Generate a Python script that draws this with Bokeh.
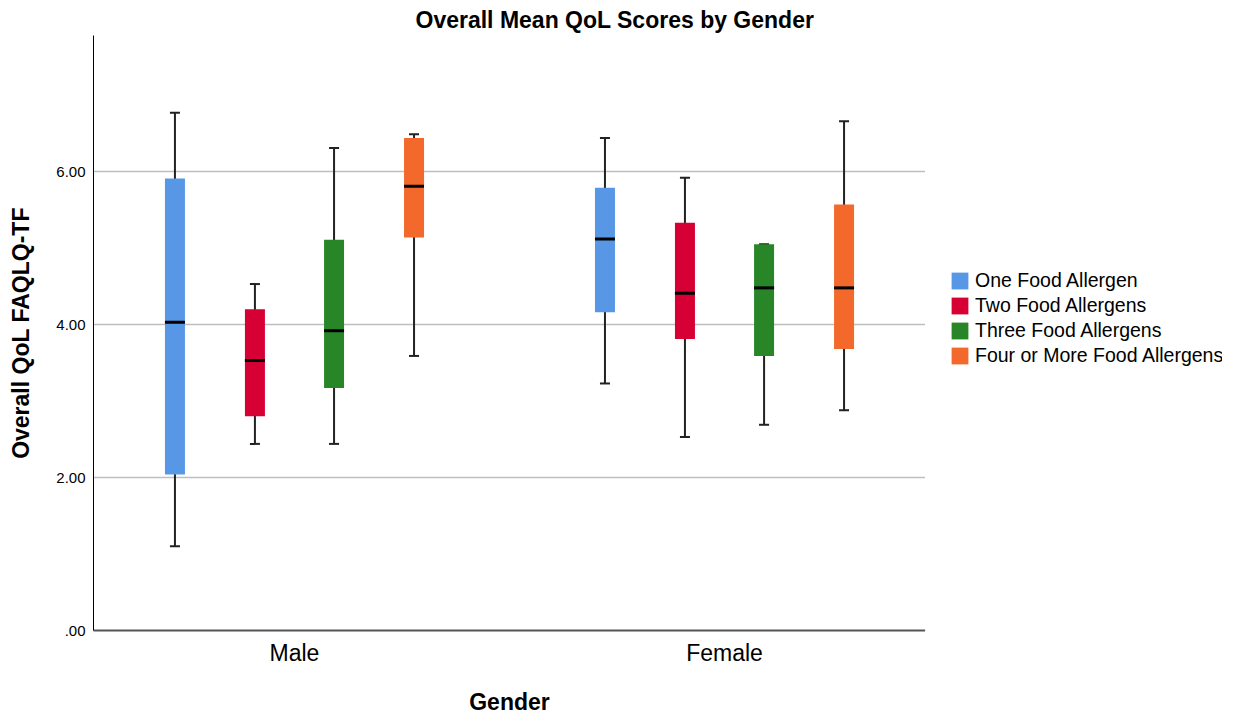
from bokeh.plotting import figure
from bokeh.layouts import row
from bokeh.models import (FactorRange, Range1d, FixedTicker, Legend, LegendItem,
                          ColumnDataSource)
from bokeh.transform import dodge
from bokeh.embed import file_html
from bokeh.resources import INLINE

# ---- data -------------------------------------------------------------
genders = ["Male", "Female"]
allergen_groups = ["One Food Allergen", "Two Food Allergens",
                   "Three Food Allergens", "Four or More Food Allergens"]

one_low = [1.10, 3.23]
one_q1 = [2.04, 4.16]
one_med = [4.03, 5.12]
one_q3 = [5.91, 5.79]
one_high = [6.77, 6.44]

two_low = [2.44, 2.53]
two_q1 = [2.80, 3.81]
two_med = [3.53, 4.41]
two_q3 = [4.20, 5.33]
two_high = [4.53, 5.92]

three_low = [2.44, 2.69]
three_q1 = [3.17, 3.59]
three_med = [3.92, 4.48]
three_q3 = [5.11, 5.05]
three_high = [6.31, 5.05]

four_low = [3.59, 2.88]
four_q1 = [5.14, 3.68]
four_med = [5.81, 4.48]
four_q3 = [6.44, 5.57]
four_high = [6.49, 6.66]

y_ticks = [0, 2, 4, 6]
y_tick_labels = [".00", "2.00", "4.00", "6.00"]

colors = ["#5797E5", "#D60034", "#288629", "#F3692B"]
FONT = "Liberation Sans"

series = [
    (one_low, one_q1, one_med, one_q3, one_high),
    (two_low, two_q1, two_med, two_q3, two_high),
    (three_low, three_q1, three_med, three_q3, three_high),
    (four_low, four_q1, four_med, four_q3, four_high),
]

# ---- main box plot ----------------------------------------------------
p = figure(
    width=925, height=717,
    x_range=FactorRange(*genders, range_padding=-0.0326),
    y_range=Range1d(0, 7.78),
    output_backend="svg", toolbar_location=None,
    min_border_left=93, min_border_right=0,
    min_border_top=35, min_border_bottom=87,
    title="Overall Mean QoL Scores by Gender",
)
p.outline_line_color = None
p.background_fill_color = "white"
p.border_fill_color = "white"

p.title.align = "left"
p.title.offset = 322
p.title.standoff = 6
p.title.text_font = FONT
p.title.text_font_size = "23px"
p.title.text_font_style = "bold"
p.title.text_color = "black"

# axes
p.yaxis.ticker = FixedTicker(ticks=y_ticks)
p.yaxis.major_label_overrides = {t: s for t, s in zip(y_ticks, y_tick_labels)}
p.yaxis.axis_label = "Overall QoL FAQLQ-TF"
p.xaxis.axis_label = "Gender"
for ax in (p.xaxis[0], p.yaxis[0]):
    ax.major_tick_line_color = None
    ax.minor_tick_line_color = None
    ax.major_tick_out = 0
    ax.major_tick_in = 0
    ax.minor_tick_out = 0
    ax.minor_tick_in = 0
    ax.axis_label_text_font = FONT
    ax.axis_label_text_font_size = "23px"
    ax.axis_label_text_font_style = "bold"
    ax.axis_label_text_color = "black"
    ax.major_label_text_font = FONT
    ax.major_label_text_color = "black"
p.yaxis.major_label_text_font_size = "15px"
p.yaxis.major_label_standoff = 8
p.yaxis.axis_label_standoff = 19
p.yaxis.axis_line_color = "black"
p.yaxis.axis_line_width = 1
p.xaxis.major_label_text_font_size = "23px"
p.xaxis.major_label_standoff = 9
p.xaxis.axis_label_standoff = 20
p.xaxis.axis_line_color = "#555555"
p.xaxis.axis_line_width = 2

p.xgrid.grid_line_color = None
p.ygrid.ticker = FixedTicker(ticks=[t for t in y_ticks if t > 0])
p.ygrid.grid_line_color = "#bebebe"
p.ygrid.grid_line_width = 1.5

offsets = [-0.278, -0.092, 0.092, 0.278]
box_w = 0.0465
cap_w = 0.0233

for color, off, (lo, q1, med, q3, hi) in zip(colors, offsets, series):
    src = ColumnDataSource(dict(gender=genders, lo=lo, q1=q1, med=med, q3=q3, hi=hi))
    xc = dodge("gender", off, range=p.x_range)
    xl_cap = dodge("gender", off - cap_w / 2, range=p.x_range)
    xr_cap = dodge("gender", off + cap_w / 2, range=p.x_range)
    xl_box = dodge("gender", off - box_w / 2, range=p.x_range)
    xr_box = dodge("gender", off + box_w / 2, range=p.x_range)

    # whisker stem and caps
    p.segment(x0=xc, y0="lo", x1=xc, y1="hi", source=src,
              line_color="#222222", line_width=2)
    p.segment(x0=xl_cap, y0="lo", x1=xr_cap, y1="lo", source=src,
              line_color="#222222", line_width=2)
    p.segment(x0=xl_cap, y0="hi", x1=xr_cap, y1="hi", source=src,
              line_color="#222222", line_width=2)
    # interquartile box
    p.vbar(x=xc, bottom="q1", top="q3", width=box_w, source=src,
           fill_color=color, line_color=None)
    # median
    p.segment(x0=xl_box, y0="med", x1=xr_box, y1="med", source=src,
              line_color="black", line_width=3)

# ---- legend panel -----------------------------------------------------
lg = figure(
    width=297, height=717,
    x_range=Range1d(0, 1), y_range=Range1d(0, 1),
    output_backend="svg", toolbar_location=None,
    min_border=0, outline_line_color=None,
)
lg.axis.visible = False
lg.grid.visible = False
lg.background_fill_color = "white"
lg.border_fill_color = "white"

items = []
for name, color in zip(allergen_groups, colors):
    # swatch source sits outside the visible range; only the legend shows it
    r = lg.vbar(x=[-5], top=[-4], bottom=[-5], width=0.1,
                fill_color=color, line_color=None)
    items.append(LegendItem(label=name, renderers=[r]))

legend = Legend(items=items, location=(24, 262))
legend.border_line_color = None
legend.background_fill_alpha = 0
legend.padding = 0
legend.margin = 0
legend.spacing = 0
legend.glyph_width = 21
legend.glyph_height = 21
legend.label_height = 25
legend.label_standoff = 5
legend.label_text_font = FONT
legend.label_text_font_size = "19.5px"
legend.label_text_color = "black"
lg.add_layout(legend, "center")

layout = row(p, lg)
open("out.html", "w").write(file_html(layout, INLINE))
